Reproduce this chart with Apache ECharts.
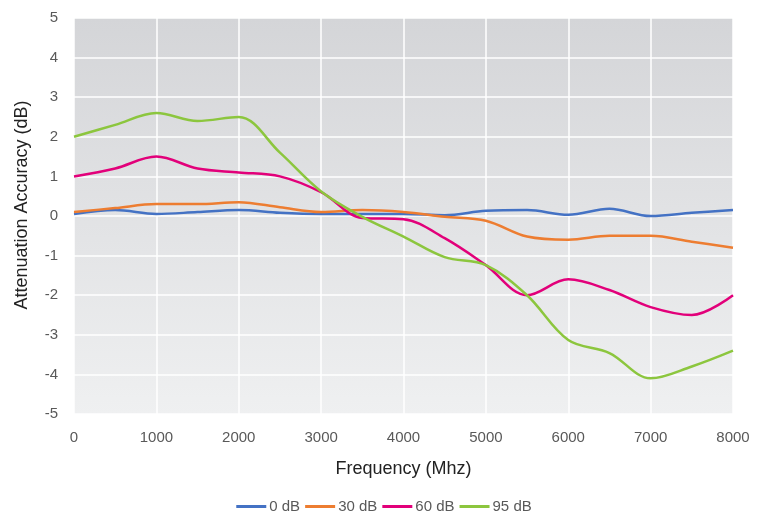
<!DOCTYPE html>
<html><head><meta charset="utf-8">
<script src="https://cdn.jsdelivr.net/npm/echarts@6/dist/echarts.min.js"></script>
<style>html,body{margin:0;padding:0;background:#fff}#c{width:768px;height:517px}</style>
</head><body><div id="c"></div>
<script>
const freqs = [0,500,1000,1500,2000,2500,3000,3500,4000,4500,5000,5500,6000,6500,7000,7500,8000];
const seriesNames = ['0 dB','30 dB','60 dB','95 dB'];
const s0 = [0.05,0.15,0.05,0.1,0.15,0.08,0.05,0.05,0.05,0.02,0.13,0.15,0.03,0.18,0.0,0.08,0.15];
const s30 = [0.1,0.2,0.3,0.3,0.35,0.22,0.1,0.15,0.1,-0.02,-0.12,-0.52,-0.6,-0.5,-0.5,-0.65,-0.8];
const s60 = [1.0,1.2,1.5,1.2,1.1,1.0,0.6,-0.05,-0.08,-0.56,-1.24,-2.0,-1.6,-1.87,-2.3,-2.5,-2.0];
const s95 = [2.0,2.3,2.6,2.4,2.5,1.6,0.62,-0.02,-0.52,-1.04,-1.24,-2.0,-3.13,-3.46,-4.1,-3.8,-3.4];
const colors = ['#4472c4','#ed7d31','#e2007a','#8cc63e'];
const allData = [s0,s30,s60,s95];
const font = 'Liberation Sans, Arial, sans-serif';
const chart = echarts.init(document.getElementById('c'));
chart.setOption({
  animation:false,
  color: colors,
  grid:{left:74,right:35,top:18,bottom:103,show:true,borderWidth:0,containLabel:false,outerBoundsMode:'none',
    backgroundColor:{type:'linear',x:0,y:0,x2:0,y2:1,colorStops:[{offset:0,color:'#d4d5d8'},{offset:1,color:'#eff0f1'}]}},
  legend:{top:494,left:'center',itemWidth:30,itemHeight:3,itemGap:5,icon:'rect',
    textStyle:{color:'#595959',fontSize:15,fontFamily:font,padding:[0,0,0,-2]},
    data:seriesNames},
  xAxis:{type:'value',min:0,max:8000,interval:1000,
    name:'Frequency (Mhz)',nameLocation:'middle',nameGap:46,
    nameTextStyle:{color:'#222',fontSize:18,fontFamily:font},
    axisLine:{show:false},axisTick:{show:false},
    axisLabel:{color:'#595959',fontSize:15,margin:16,fontFamily:font,formatter:v=>String(v)},
    splitLine:{lineStyle:{color:'#ffffff',width:1.5}}},
  yAxis:{type:'value',min:-5,max:5,interval:1,
    name:'Attenuation Accuracy (dB)',nameLocation:'middle',nameGap:43,
    nameTextStyle:{color:'#222',fontSize:18,fontFamily:font,padding:[0,0,0,22]},
    axisLine:{show:false},axisTick:{show:false},
    axisLabel:{color:'#595959',fontSize:15,margin:16,fontFamily:font},
    splitLine:{lineStyle:{color:'#ffffff',width:1.5}}},
  series: seriesNames.map((n,i)=>({
    name:n,type:'line',smooth:0.35,showSymbol:false,symbol:'none',
    lineStyle:{width:2.5,color:colors[i]},
    data: freqs.map((f,j)=>[f,allData[i][j]])
  }))
});
</script></body></html>
